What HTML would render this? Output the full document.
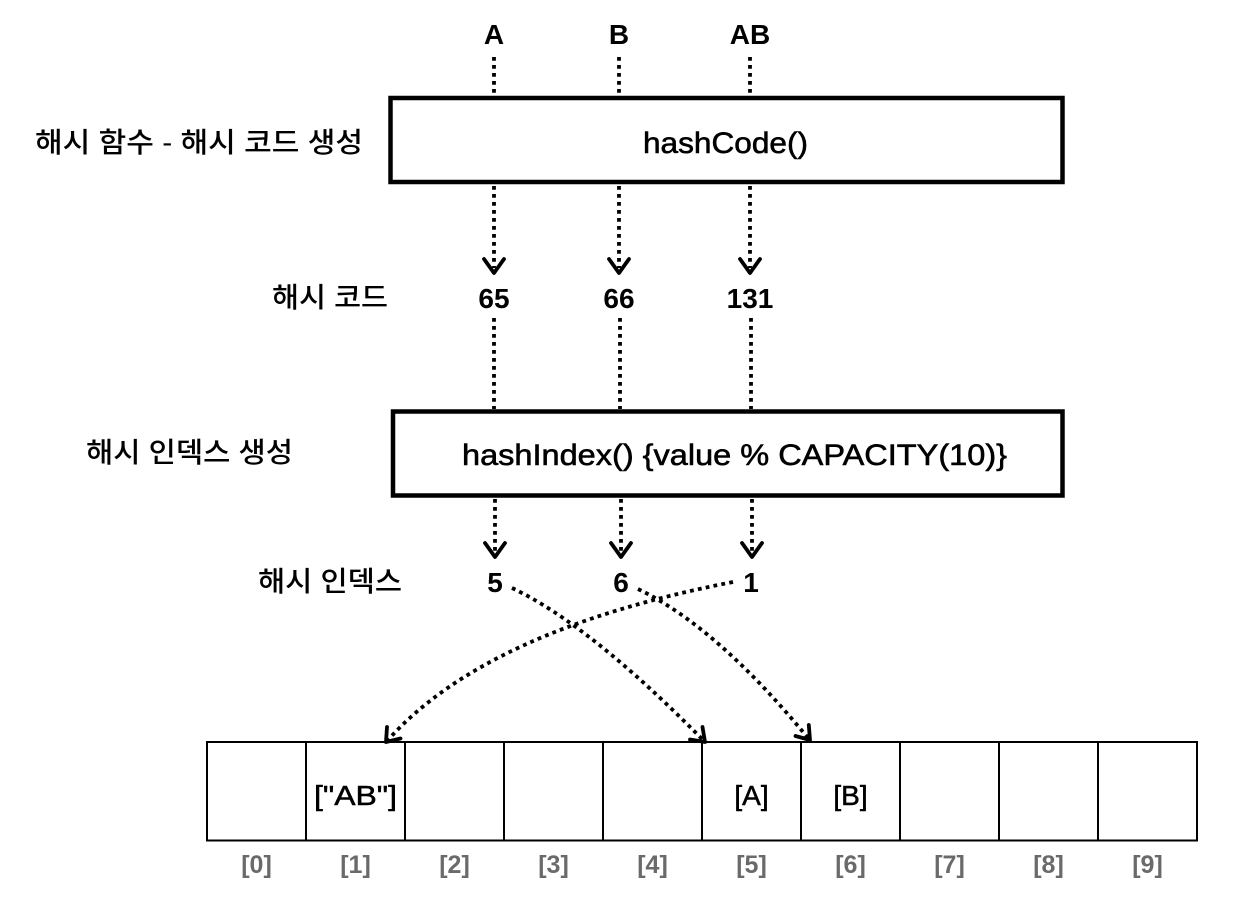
<!DOCTYPE html>
<html>
<head>
<meta charset="utf-8">
<style>
  html, body { margin: 0; padding: 0; background: #ffffff; }
  body { width: 1246px; height: 898px; overflow: hidden; }
  svg { display: block; }
  .lat { font-family: "Liberation Sans", "Noto Sans CJK KR", sans-serif; }
  .kr { font-family: "Liberation Sans", "Noto Sans CJK KR", "NanumGothic", sans-serif; font-weight: 500; }
</style>
</head>
<body>
<svg width="1246" height="898" viewBox="0 0 1246 898" xmlns="http://www.w3.org/2000/svg">
  <rect x="0" y="0" width="1246" height="898" fill="#ffffff"/>

  <!-- Top labels -->
  <g class="lat" font-size="28" font-weight="bold" fill="#000" text-anchor="middle">
    <text x="494" y="44">A</text>
    <text x="619" y="44">B</text>
    <text x="750" y="44">AB</text>
  </g>

  <!-- Dotted lines into hashCode box -->
  <g stroke="#000" stroke-width="3.8" stroke-dasharray="3.8 4.2" fill="none">
    <line x1="494" y1="57" x2="494" y2="95"/>
    <line x1="619" y1="57" x2="619" y2="95"/>
    <line x1="750" y1="57" x2="750" y2="95"/>
  </g>

  <!-- hashCode box -->
  <rect x="390.5" y="98" width="672" height="84" fill="#fff" stroke="#000" stroke-width="4.5"/>
  <text class="lat" x="643" y="153" font-size="30" fill="#000" stroke="#000" stroke-width="0.6" textLength="165" lengthAdjust="spacingAndGlyphs">hashCode()</text>

  <!-- Korean labels -->
  <text class="kr" x="35" y="152" font-size="28" fill="#000" textLength="328" lengthAdjust="spacingAndGlyphs">해시 함수 - 해시 코드 생성</text>
  <text class="kr" x="272" y="307" font-size="28" fill="#000" textLength="116" lengthAdjust="spacingAndGlyphs">해시 코드</text>
  <text class="kr" x="86" y="462" font-size="28" fill="#000" textLength="207" lengthAdjust="spacingAndGlyphs">해시 인덱스 생성</text>
  <text class="kr" x="258" y="591" font-size="28" fill="#000" textLength="144" lengthAdjust="spacingAndGlyphs">해시 인덱스</text>

  <!-- Dotted arrows from hashCode box to hash codes -->
  <g stroke="#000" stroke-width="3.8" stroke-dasharray="3.8 4.2" fill="none">
    <line x1="494" y1="186" x2="494" y2="268"/>
    <line x1="619" y1="186" x2="619" y2="268"/>
    <line x1="750" y1="186" x2="750" y2="268"/>
  </g>
  <g stroke="#000" stroke-width="3.8" fill="none" stroke-linecap="round" stroke-linejoin="round">
    <polyline points="484,259 494,273 504,259"/>
    <polyline points="609,259 619,273 629,259"/>
    <polyline points="740,259 750,273 760,259"/>
  </g>

  <!-- Hash codes -->
  <g class="lat" font-size="28" font-weight="bold" fill="#000" text-anchor="middle">
    <text x="494" y="308">65</text>
    <text x="619" y="308">66</text>
    <text x="750" y="308">131</text>
  </g>

  <!-- Dotted lines into hashIndex box -->
  <g stroke="#000" stroke-width="3.8" stroke-dasharray="3.8 4.2" fill="none">
    <line x1="494" y1="318" x2="494" y2="409"/>
    <line x1="620" y1="318" x2="620" y2="409"/>
    <line x1="751" y1="318" x2="751" y2="409"/>
  </g>

  <!-- hashIndex box -->
  <rect x="393" y="411.5" width="669.5" height="84" fill="#fff" stroke="#000" stroke-width="4.5"/>
  <text class="lat" x="462" y="465" font-size="30" fill="#000" stroke="#000" stroke-width="0.6" textLength="545" lengthAdjust="spacingAndGlyphs">hashIndex() {value % CAPACITY(10)}</text>

  <!-- Dotted arrows from hashIndex box to indexes -->
  <g stroke="#000" stroke-width="3.8" stroke-dasharray="3.8 4.2" fill="none">
    <line x1="495" y1="499" x2="495" y2="552"/>
    <line x1="621" y1="499" x2="621" y2="552"/>
    <line x1="752" y1="499" x2="752" y2="552"/>
  </g>
  <g stroke="#000" stroke-width="3.8" fill="none" stroke-linecap="round" stroke-linejoin="round">
    <polyline points="485,543 495,557 505,543"/>
    <polyline points="611,543 621,557 631,543"/>
    <polyline points="742,543 752,557 762,543"/>
  </g>

  <!-- Hash indexes -->
  <g class="lat" font-size="28" font-weight="bold" fill="#000" text-anchor="middle">
    <text x="495" y="592">5</text>
    <text x="621" y="592">6</text>
    <text x="751" y="592">1</text>
  </g>

  <!-- Curved dotted arrows to array -->
  <g stroke="#000" stroke-width="3.8" stroke-dasharray="3.8 4.2" fill="none">
    <path d="M512,588 Q590,625 703,740"/>
    <path d="M638,589 Q717,627 808,738"/>
    <path d="M733,582 Q486,630 388,740"/>
  </g>
  <g stroke="#000" stroke-width="3.8" fill="none" stroke-linecap="round" stroke-linejoin="round">
    <polyline points="702.5,727 705,742 690,739.5"/>
    <polyline points="808.8,725 810,740 795.5,736"/>
    <polyline points="400.5,738.5 386,742 387,727"/>
  </g>

  <!-- Array -->
  <g stroke="#000" stroke-width="2" fill="none">
    <rect x="207" y="742" width="990" height="98.5"/>
    <line x1="306" y1="742" x2="306" y2="840.5"/>
    <line x1="405" y1="742" x2="405" y2="840.5"/>
    <line x1="504" y1="742" x2="504" y2="840.5"/>
    <line x1="603" y1="742" x2="603" y2="840.5"/>
    <line x1="702" y1="742" x2="702" y2="840.5"/>
    <line x1="801" y1="742" x2="801" y2="840.5"/>
    <line x1="900" y1="742" x2="900" y2="840.5"/>
    <line x1="999" y1="742" x2="999" y2="840.5"/>
    <line x1="1098" y1="742" x2="1098" y2="840.5"/>
  </g>

  <!-- Array contents -->
  <g class="lat" font-size="28" fill="#000" stroke="#000" stroke-width="0.5">
    <text x="314" y="805" textLength="83" lengthAdjust="spacingAndGlyphs">["AB"]</text>
    <text x="751.5" y="805" text-anchor="middle">[A]</text>
    <text x="850.5" y="805" text-anchor="middle">[B]</text>
  </g>

  <!-- Index labels -->
  <g class="lat" font-size="25" font-weight="bold" fill="#6a6a6a" text-anchor="middle">
    <text x="256.5" y="873">[0]</text>
    <text x="355.5" y="873">[1]</text>
    <text x="454.5" y="873">[2]</text>
    <text x="553.5" y="873">[3]</text>
    <text x="652.5" y="873">[4]</text>
    <text x="751.5" y="873">[5]</text>
    <text x="850.5" y="873">[6]</text>
    <text x="949.5" y="873">[7]</text>
    <text x="1048.5" y="873">[8]</text>
    <text x="1147.5" y="873">[9]</text>
  </g>
</svg>
</body>
</html>
